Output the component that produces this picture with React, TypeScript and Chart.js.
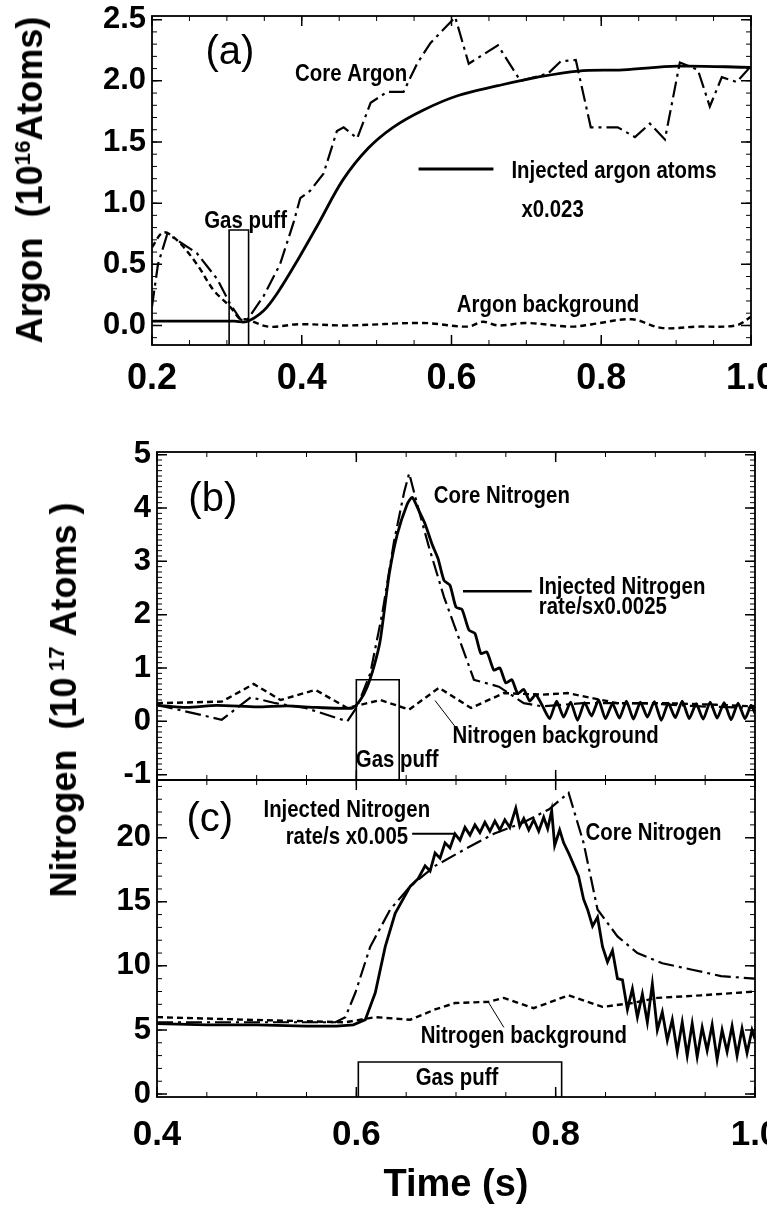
import React, { useEffect, useRef } from "react";
import { Chart, registerables } from "chart.js";
Chart.register(...registerables);

const FONT = '"Liberation Sans", Arial, Helvetica, sans-serif';

// ---------------- Panel (a): Argon ----------------
const coreArgonT = [0.2, 0.208, 0.22, 0.228, 0.26, 0.287, 0.304, 0.318, 0.326, 0.349, 0.371, 0.389, 0.398, 0.411, 0.429, 0.447, 0.456, 0.474, 0.492, 0.514, 0.536, 0.554, 0.572, 0.605, 0.623, 0.662, 0.692, 0.729, 0.746, 0.766, 0.786, 0.822, 0.845, 0.865, 0.885, 0.905, 0.929, 0.945, 0.961, 0.981, 1.0];
const coreArgonV = [0.155, 0.5, 0.74, 0.72, 0.59, 0.38, 0.18, 0.05, 0.035, 0.24, 0.5, 0.84, 1.04, 1.1, 1.24, 1.59, 1.62, 1.53, 1.82, 1.91, 1.91, 2.14, 2.31, 2.52, 2.14, 2.29, 2.0, 2.06, 2.16, 2.17, 1.62, 1.62, 1.54, 1.65, 1.52, 2.15, 2.09, 1.79, 2.03, 1.99, 2.12];

const injectedArgonT = [0.2, 0.31, 0.326, 0.349, 0.368, 0.396, 0.423, 0.455, 0.489, 0.522, 0.562, 0.609, 0.662, 0.715, 0.769, 0.829, 0.902, 1.0];
const injectedArgonV = [0.035, 0.035, 0.03, 0.12, 0.27, 0.55, 0.84, 1.19, 1.45, 1.62, 1.76, 1.88, 1.96, 2.03, 2.08, 2.09, 2.12, 2.11];

const argonBackgroundT = [0.2, 0.215, 0.233, 0.26, 0.282, 0.304, 0.318, 0.326, 0.356, 0.396, 0.46, 0.562, 0.622, 0.642, 0.662, 0.7, 0.76, 0.788, 0.841, 0.88, 0.927, 0.98, 1.0];
const argonBackgroundV = [0.64, 0.76, 0.7, 0.5, 0.29, 0.155, 0.05, 0.05, -0.01, 0.01, 0.0, 0.02, -0.01, 0.03, 0.0, 0.02, -0.01, 0.01, 0.05, -0.02, -0.01, 0.0, 0.07];

const gasPuffA = [0.303, 0.329]; // start, end (s)
const gasPuffAHeight = 0.78;

// ---------------- Panel (b): Nitrogen ----------------
const coreNitrogenBT = [0.4, 0.465, 0.494, 0.519, 0.549, 0.591, 0.601, 0.614, 0.626, 0.638, 0.648, 0.653, 0.661, 0.673, 0.688, 0.7, 0.718, 0.743, 0.768, 0.787, 0.827, 0.887, 0.946, 1.0];
const coreNitrogenBV = [0.31, 0.03, 0.45, 0.34, 0.25, 0.0, 0.28, 0.9, 2.02, 3.39, 4.3, 4.65, 4.07, 3.26, 2.33, 1.71, 0.78, 0.65, 0.34, 0.28, 0.34, 0.34, 0.28, 0.25];

const injectedNitrogenBT = [0.4, 0.43, 0.46, 0.5, 0.53, 0.56, 0.596, 0.604, 0.611, 0.618, 0.624, 0.633, 0.641, 0.651, 0.656, 0.663, 0.669, 0.676, 0.682, 0.688, 0.694, 0.7, 0.706, 0.713, 0.719, 0.725, 0.731, 0.738, 0.744, 0.75, 0.756, 0.762, 0.768, 0.774, 0.78, 0.787, 0.794, 0.801, 0.808, 0.815, 0.822, 0.829, 0.836, 0.843, 0.85, 0.857, 0.864, 0.871, 0.878, 0.885, 0.892, 0.899, 0.906, 0.913, 0.92, 0.927, 0.934, 0.941, 0.948, 0.955, 0.962, 0.969, 0.976, 0.983, 0.99, 0.996, 1.0];
const injectedNitrogenBV = [0.3, 0.26, 0.3, 0.27, 0.29, 0.26, 0.25, 0.4, 0.65, 1.05, 1.52, 2.76, 3.5, 4.07, 4.2, 3.94, 3.7, 3.32, 3.05, 2.64, 2.55, 2.14, 2.1, 1.71, 1.65, 1.27, 1.3, 0.96, 1.0, 0.72, 0.78, 0.52, 0.6, 0.38, 0.5, 0.28, 0.05, 0.38, 0.08, 0.36, 0.02, 0.35, 0.1, 0.4, 0.05, 0.33, 0.06, 0.38, 0.04, 0.36, 0.08, 0.37, 0.02, 0.34, 0.07, 0.38, 0.05, 0.33, 0.04, 0.36, 0.06, 0.35, 0.03, 0.34, 0.05, 0.3, 0.15];

const nitrogenBackgroundBT = [0.4, 0.465, 0.497, 0.524, 0.559, 0.591, 0.624, 0.653, 0.683, 0.715, 0.748, 0.787, 0.812, 0.862, 0.912, 0.961, 1.0];
const nitrogenBackgroundBV = [0.34, 0.37, 0.7, 0.4, 0.59, 0.25, 0.4, 0.22, 0.63, 0.25, 0.53, 0.5, 0.53, 0.34, 0.34, 0.31, 0.28];

const gasPuffB = [0.6, 0.643];
const gasPuffBHeight = 0.78;

// ---------------- Panel (c): Nitrogen ----------------
const injectedNitrogenCT = [0.4, 0.45, 0.5, 0.55, 0.58, 0.597, 0.609, 0.619, 0.629, 0.639, 0.654, 0.662, 0.669, 0.674, 0.679, 0.684, 0.689, 0.694, 0.699, 0.704, 0.709, 0.714, 0.719, 0.724, 0.729, 0.734, 0.739, 0.744, 0.749, 0.754, 0.76, 0.764, 0.768, 0.773, 0.778, 0.783, 0.788, 0.792, 0.796, 0.799, 0.804, 0.808, 0.813, 0.818, 0.823, 0.828, 0.832, 0.837, 0.842, 0.847, 0.852, 0.857, 0.862, 0.867, 0.872, 0.877, 0.882, 0.887, 0.892, 0.897, 0.902, 0.907, 0.912, 0.917, 0.922, 0.927, 0.932, 0.937, 0.942, 0.947, 0.952, 0.957, 0.962, 0.967, 0.972, 0.977, 0.982, 0.987, 0.992, 0.997, 1.0];
const injectedNitrogenCV = [5.5, 5.4, 5.4, 5.3, 5.3, 5.4, 5.8, 7.9, 11.5, 14.1, 16.2, 16.8, 17.8, 17.4, 18.8, 18.4, 19.6, 19.2, 20.3, 19.8, 20.8, 20.2, 21.0, 20.4, 21.2, 20.5, 21.3, 20.6, 21.4, 20.8, 22.3, 20.9, 21.5, 20.6, 21.4, 20.5, 21.6, 20.7, 22.1, 19.4, 20.6, 19.6, 18.8, 17.9, 17.0, 15.2, 14.4, 13.1, 13.8, 11.5, 10.3, 11.2, 9.0, 8.9, 6.6, 8.2, 6.0, 7.8, 5.6, 8.6, 5.0, 6.4, 4.2, 5.8, 3.3, 5.6, 3.0, 5.5, 2.9, 5.2, 3.4, 5.4, 2.7, 5.0, 3.3, 5.3, 3.0, 5.1, 3.2, 5.0, 4.3];

const coreNitrogenCT = [0.4, 0.579, 0.589, 0.599, 0.614, 0.634, 0.654, 0.679, 0.709, 0.738, 0.768, 0.793, 0.813, 0.828, 0.842, 0.862, 0.882, 0.907, 0.937, 0.966, 1.0];
const coreNitrogenCV = [5.6, 5.6, 6.0, 7.9, 11.5, 14.4, 16.2, 17.8, 19.1, 20.3, 21.2, 22.2, 23.5, 19.6, 14.4, 12.3, 11.0, 10.2, 9.7, 9.2, 9.0];

const nitrogenBackgroundCT = [0.4, 0.49, 0.589, 0.619, 0.654, 0.679, 0.699, 0.733, 0.748, 0.778, 0.813, 0.847, 0.877, 0.902, 0.946, 1.0];
const nitrogenBackgroundCV = [6.0, 5.8, 5.6, 6.0, 5.8, 6.6, 7.1, 7.2, 7.5, 6.7, 7.7, 6.8, 7.1, 7.5, 7.7, 8.0];

const gasPuffC = [0.602, 0.806];
const gasPuffCHeight = 2.5;

// ---------------- styles ----------------
const STYLE = {
  injected: { borderWidth: 2.8, borderDash: [] as number[] },
  core: { borderWidth: 2.2, borderDash: [16, 5, 3, 5] },
  background: { borderWidth: 2.4, borderDash: [6, 4] },
  puff: { borderWidth: 1.6, borderDash: [] as number[] },
};

type Note = { text: string; x: number; y: number; align?: CanvasTextAlign; size?: number; weight?: string; sx?: number };
type Seg = { x1: number; y1: number; x2: number; y2: number; w: number };

type Spec = {
  top: number; h: number;
  xMin: number; xMax: number; yMin: number; yMax: number; yStep: number; yDec: number;
  yWidth: number; padRight: number; padTop: number; padBottom: number; xAxisH: number;
  showX: boolean; xLabelPad: number; xFont: number; title: boolean;
  series: { t: number[]; v: number[]; style: keyof typeof STYLE; tension?: number }[];
  puff: { range: number[]; height: number };
  notes: Note[]; segs: Seg[];
  yMinor: number; yMajor: number;
};

function series(t: number[], v: number[], style: keyof typeof STYLE, tension = 0) {
  return { t, v, style, tension };
}

const specA: Spec = {
  top: 0, h: 400, xMin: 0.2, xMax: 1.0, yMin: -0.16, yMax: 2.53, yStep: 0.5, yDec: 1,
  yWidth: 152, padRight: 16, padTop: 16, padBottom: 0, xAxisH: 55, showX: true, xLabelPad: 12, xFont: 36, title: false,
  series: [
    series(injectedArgonT, injectedArgonV, "injected", 0.35),
    series(coreArgonT, coreArgonV, "core", 0),
    series(argonBackgroundT, argonBackgroundV, "background", 0.35),
  ],
  puff: { range: gasPuffA, height: gasPuffAHeight },
  notes: [
    { text: "(a)", x: 0.304, y: 2.23, size: 40, weight: "normal", sx: 1 },
    { text: "Core Argon", x: 0.466, y: 2.05 },
    { text: "Injected argon atoms", x: 0.817, y: 1.26 },
    { text: "x0.023", x: 0.735, y: 0.94 },
    { text: "Gas puff", x: 0.325, y: 0.85 },
    { text: "Argon background", x: 0.729, y: 0.16 },
  ],
  segs: [{ x1: 0.556, y1: 1.28, x2: 0.656, y2: 1.28, w: 3 }],
  yMinor: 0.1, yMajor: 0.5,
};

const specB: Spec = {
  top: 430, h: 360, xMin: 0.4, xMax: 1.0, yMin: -1.1, yMax: 5.05, yStep: 1, yDec: 0,
  yWidth: 157, padRight: 12, padTop: 22, padBottom: 10, xAxisH: 0, showX: false, xLabelPad: 0, xFont: 35, title: false,
  series: [
    series(injectedNitrogenBT, injectedNitrogenBV, "injected", 0.2),
    series(coreNitrogenBT, coreNitrogenBV, "core", 0),
    series(nitrogenBackgroundBT, nitrogenBackgroundBV, "background", 0),
  ],
  puff: { range: gasPuffB, height: gasPuffBHeight },
  notes: [
    { text: "(b)", x: 0.456, y: 4.15, size: 40, weight: "normal", sx: 1 },
    { text: "Core Nitrogen", x: 0.746, y: 4.21 },
    { text: "Injected Nitrogen", x: 0.783, y: 2.51, align: "left" },
    { text: "rate/sx0.0025", x: 0.783, y: 2.14, align: "left" },
    { text: "Nitrogen background", x: 0.8, y: -0.28 },
    { text: "Gas puff", x: 0.641, y: -0.73 },
  ],
  segs: [
    { x1: 0.707, y1: 2.44, x2: 0.776, y2: 2.44, w: 2.5 },
    { x1: 0.679, y1: 0.39, x2: 0.702, y2: -0.17, w: 1 },
  ],
  yMinor: 0.1, yMajor: 1,
};

const specC: Spec = {
  top: 760, h: 445, xMin: 0.4, xMax: 1.0, yMin: -0.23, yMax: 24.5, yStep: 5, yDec: 0,
  yWidth: 157, padRight: 12, padTop: 20, padBottom: 0, xAxisH: 108, showX: true, xLabelPad: 17, xFont: 35, title: true,
  series: [
    series(injectedNitrogenCT, injectedNitrogenCV, "injected", 0),
    series(coreNitrogenCT, coreNitrogenCV, "core", 0),
    series(nitrogenBackgroundCT, nitrogenBackgroundCV, "background", 0),
  ],
  puff: { range: gasPuffC, height: gasPuffCHeight },
  notes: [
    { text: "(c)", x: 0.453, y: 21.4, size: 40, weight: "normal", sx: 1 },
    { text: "Injected Nitrogen", x: 0.674, y: 22.1, align: "right" },
    { text: "rate/s x0.005", x: 0.652, y: 20.0, align: "right" },
    { text: "Core Nitrogen", x: 0.83, y: 20.3, align: "left" },
    { text: "Nitrogen background", x: 0.768, y: 4.5 },
    { text: "Gas puff", x: 0.701, y: 1.2 },
  ],
  segs: [
    { x1: 0.656, y1: 20.3, x2: 0.699, y2: 20.3, w: 2 },
    { x1: 0.733, y1: 7.1, x2: 0.748, y2: 5.2, w: 1 },
  ],
  yMinor: 1, yMajor: 5,
};

function makePlugin(spec: Spec) {
  return {
    id: "frameNotes",
    afterDatasetsDraw(chart: any) {
      const { ctx, chartArea: ca, scales } = chart;
      const xs = scales.x, ys = scales.y;
      ctx.save();
      ctx.strokeStyle = "#000";
      ctx.fillStyle = "#000";
      const iter = (min: number, max: number, step: number, fn: (v: number) => void) => {
        for (let k = Math.ceil(min / step - 1e-9); k * step <= max + 1e-9; k++) fn(k * step);
      };
      const xTick = (step: number, len: number) => {
        iter(spec.xMin, spec.xMax, step, (v) => {
          const p = xs.getPixelForValue(v);
          ctx.beginPath();
          ctx.moveTo(p, ca.bottom); ctx.lineTo(p, ca.bottom - len);
          ctx.moveTo(p, ca.top); ctx.lineTo(p, ca.top + len);
          ctx.stroke();
        });
      };
      const yTick = (step: number, len: number) => {
        iter(spec.yMin, spec.yMax, step, (v) => {
          const p = ys.getPixelForValue(v);
          ctx.beginPath();
          ctx.moveTo(ca.left, p); ctx.lineTo(ca.left + len, p);
          ctx.moveTo(ca.right, p); ctx.lineTo(ca.right - len, p);
          ctx.stroke();
        });
      };
      ctx.lineWidth = 1;
      xTick(0.05, 5);
      yTick(spec.yMinor, 5);
      ctx.lineWidth = 1.5;
      xTick(0.2, 10);
      yTick(spec.yMajor, 10);
      ctx.lineWidth = 1.8;
      ctx.strokeRect(ca.left, ca.top, ca.right - ca.left, ca.bottom - ca.top);
      for (const s of spec.segs) {
        ctx.lineWidth = s.w;
        ctx.beginPath();
        ctx.moveTo(xs.getPixelForValue(s.x1), ys.getPixelForValue(s.y1));
        ctx.lineTo(xs.getPixelForValue(s.x2), ys.getPixelForValue(s.y2));
        ctx.stroke();
      }
      for (const n of spec.notes) {
        const px = xs.getPixelForValue(n.x);
        const py = ys.getPixelForValue(n.y);
        ctx.save();
        ctx.translate(px, py);
        ctx.scale(n.sx ?? 0.85, 1);
        ctx.font = `${n.weight ?? "bold"} ${n.size ?? 24}px ${FONT}`;
        ctx.textAlign = n.align ?? "center";
        ctx.textBaseline = "middle";
        ctx.fillText(n.text, 0, 0);
        ctx.restore();
      }
      ctx.restore();
    },
  };
}

function buildConfig(spec: Spec): any {
  const datasets: any[] = spec.series.map((s) => ({
    data: s.t.map((t, i) => ({ x: t, y: s.v[i] })),
    borderColor: "#000",
    borderWidth: STYLE[s.style].borderWidth,
    borderDash: STYLE[s.style].borderDash,
    pointRadius: 0,
    tension: s.tension ?? 0,
    fill: false,
  }));
  const [p0, p1] = spec.puff.range;
  datasets.push({
    data: [
      { x: p0, y: spec.yMin },
      { x: p0, y: spec.puff.height },
      { x: p1, y: spec.puff.height },
      { x: p1, y: spec.yMin },
    ],
    borderColor: "#000",
    borderWidth: STYLE.puff.borderWidth,
    pointRadius: 0,
    tension: 0,
    fill: false,
  });
  return {
    type: "line",
    data: { datasets },
    options: {
      responsive: false,
      maintainAspectRatio: false,
      animation: false,
      events: [],
      layout: { padding: { left: 0, right: spec.padRight, top: spec.padTop, bottom: spec.padBottom } },
      plugins: { legend: { display: false }, tooltip: { enabled: false } },
      scales: {
        x: {
          type: "linear",
          min: spec.xMin,
          max: spec.xMax,
          grid: { display: false, drawTicks: false },
          border: { display: false },
          ticks: {
            display: spec.showX,
            stepSize: 0.2,
            autoSkip: false,
            maxRotation: 0,
            includeBounds: false,
            padding: spec.xLabelPad,
            color: "#000",
            font: { family: FONT, size: spec.xFont, weight: "bold" },
            callback: (v: any) => Number(v).toFixed(1),
          },
          title: {
            display: spec.title,
            text: "Time (s)",
            color: "#000",
            padding: 0,
            font: { family: FONT, size: 38, weight: "bold", lineHeight: 1 },
          },
          afterFit: (s: any) => {
            s.height = spec.xAxisH;
            s.paddingLeft = 0;
            s.paddingRight = 0;
          },
        },
        y: {
          type: "linear",
          min: spec.yMin,
          max: spec.yMax,
          grid: { display: false, drawTicks: false },
          border: { display: false },
          ticks: {
            stepSize: spec.yStep,
            includeBounds: false,
            padding: 6,
            color: "#000",
            font: { family: FONT, size: 31, weight: "bold" },
            callback: (v: any) => Number(v).toFixed(spec.yDec),
          },
          afterFit: (s: any) => {
            s.width = spec.yWidth;
            s.paddingTop = 0;
            s.paddingBottom = 0;
          },
        },
      },
    },
    plugins: [makePlugin(spec)],
  };
}

function Panel({ spec }: { spec: Spec }) {
  const ref = useRef<HTMLCanvasElement>(null);
  useEffect(() => {
    const chart = new Chart(ref.current as HTMLCanvasElement, buildConfig(spec));
    return () => chart.destroy();
  }, [spec]);
  return (
    <canvas
      ref={ref}
      width={767}
      height={spec.h}
      style={{ position: "absolute", left: 0, top: spec.top, width: 767, height: spec.h }}
    />
  );
}

function YTitle({ cx, cy, children }: { cx: number; cy: number; children: React.ReactNode }) {
  return (
    <div
      style={{
        position: "absolute",
        left: cx,
        top: cy,
        transform: "translate(-50%, -50%) rotate(-90deg)",
        whiteSpace: "nowrap",
        font: `bold 36px ${FONT}`,
        lineHeight: 1,
        color: "#000",
      }}
    >
      {children}
    </div>
  );
}

const supStyle: React.CSSProperties = { fontSize: "0.62em", verticalAlign: "0.55em", lineHeight: 0 };

export default function App() {
  return (
    <div style={{ position: "absolute", left: 0, top: 0, width: 767, height: 1205, background: "#fff", overflow: "hidden" }}>
      <Panel spec={specA} />
      <Panel spec={specB} />
      <Panel spec={specC} />
      <YTitle cx={30} cy={180}>
        Argon&nbsp;&nbsp;(10<span style={supStyle}>16</span>Atoms)
      </YTitle>
      <YTitle cx={64} cy={700}>
        Nitrogen&nbsp;&nbsp;(10<span style={supStyle}>&nbsp;17</span>&nbsp;Atoms&nbsp;)
      </YTitle>
    </div>
  );
}
